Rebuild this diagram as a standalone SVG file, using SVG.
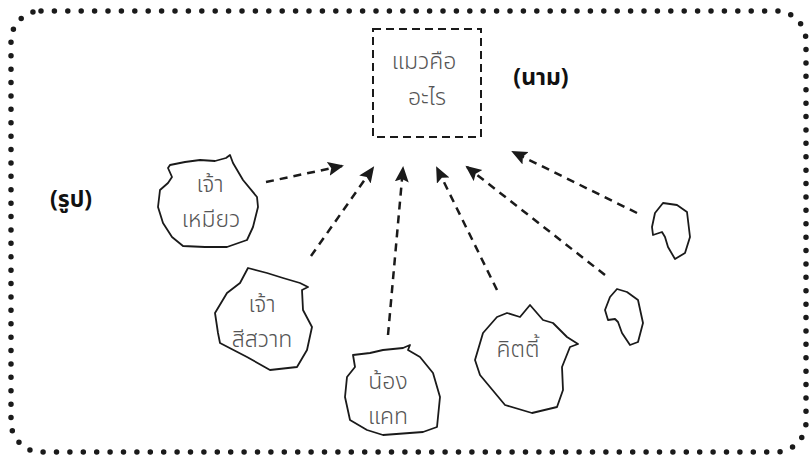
<svg xmlns="http://www.w3.org/2000/svg" width="809" height="457" viewBox="0 0 809 457">
<style>
.blob{fill:#fff;stroke:#1a1a1a;stroke-width:1.8;stroke-linejoin:round}
.lbl{font-family:"Noto Sans Thai","Noto Sans","DejaVu Sans",sans-serif;font-size:23px;fill:#555;text-anchor:middle;font-weight:300}
.bold{font-family:"Noto Sans Thai","Noto Sans","DejaVu Sans",sans-serif;font-size:23px;fill:#111;text-anchor:middle;font-weight:bold}
.conn{fill:none;stroke:#1a1a1a;stroke-width:2.5;stroke-dasharray:8 6}
</style>
<defs>
<marker id="ah" markerUnits="userSpaceOnUse" markerWidth="18" markerHeight="16" refX="14" refY="7" orient="auto">
<path d="M0,0 L16,7 L0,14 L3,7 z" fill="#1a1a1a"/>
</marker>
</defs>
<rect x="11" y="11" width="795" height="441" rx="30" fill="none" stroke="#1a1a1a" stroke-width="5.5" stroke-linecap="round" stroke-dasharray="0 13.4"/>

<g id="center">
<rect x="373" y="29" width="108" height="108" fill="none" stroke="#1a1a1a" stroke-width="2" stroke-dasharray="8 5"/>
<text class="lbl" x="424" y="69">แมวคือ</text>
<text class="lbl" x="427" y="105">อะไร</text>
</g>
<g id="label-noun"><text class="bold" x="541" y="85">(นาม)</text></g>
<g id="label-form"><text class="bold" x="71" y="207">(รูป)</text></g>

<g id="n1">
<path class="blob" d="M168,168 L170,165 L185,162 L200,160 L215,161 L226,158 L230,155 L233,163 L243,180 L257,197 L258,207 L253,227 L247,240 L227,247 L205,247 L183,246 L172,237 L163,223 L158,207 L160,190 L168,183 L172,177 Z"/>
<text class="lbl" x="210" y="192">เจ้า</text>
<text class="lbl" x="211" y="227">เหมียว</text>
</g>

<g id="n2">
<path class="blob" d="M248,268 L267,273 L283,278 L300,283 L308,287 L302,290 L303,310 L312,327 L307,350 L297,367 L270,370 L247,357 L220,343 L218,333 L215,313 L227,293 L240,283 Z"/>
<text class="lbl" x="262" y="312">เจ้า</text>
<text class="lbl" x="262" y="347">สีสวาท</text>
</g>

<g id="n3">
<path class="blob" d="M353,355 L370,353 L383,350 L403,348 L410,345 L408,350 L420,357 L433,373 L440,397 L437,427 L423,432 L383,435 L367,430 L350,420 L345,397 L347,377 L355,367 Z"/>
<text class="lbl" x="388" y="389">น้อง</text>
<text class="lbl" x="388" y="424">แคท</text>
</g>

<g id="n4">
<path class="blob" d="M483,333 L497,317 L507,313 L520,317 L530,305 L543,320 L553,323 L567,337 L578,344 L570,347 L562,367 L563,390 L557,407 L532,413 L505,405 L480,375 L475,360 Z"/>
<text class="lbl" x="518" y="357">คิตตี้</text>
</g>

<g id="n5">
<path class="blob" d="M663,203 L677,205 L687,212 L690,237 L685,253 L675,259 L668,247 L665,237 L662,232 L653,235 L652,227 L655,213 Z"/>
</g>

<g id="n6">
<path class="blob" d="M617,289 L627,292 L638,300 L643,323 L638,342 L630,345 L622,333 L618,322 L615,319 L608,320 L605,310 L610,297 Z"/>
</g>

<g id="connectors">
<line class="conn" x1="266" y1="182" x2="342" y2="166" marker-end="url(#ah)"/>
<line class="conn" x1="311" y1="256" x2="373" y2="168" marker-end="url(#ah)"/>
<line class="conn" x1="388" y1="335" x2="403" y2="168" marker-end="url(#ah)"/>
<line class="conn" x1="497" y1="290" x2="437" y2="168" marker-end="url(#ah)"/>
<line class="conn" x1="605" y1="275" x2="467" y2="167" marker-end="url(#ah)"/>
<line class="conn" x1="637" y1="213" x2="513" y2="152" marker-end="url(#ah)"/>
</g>
</svg>
